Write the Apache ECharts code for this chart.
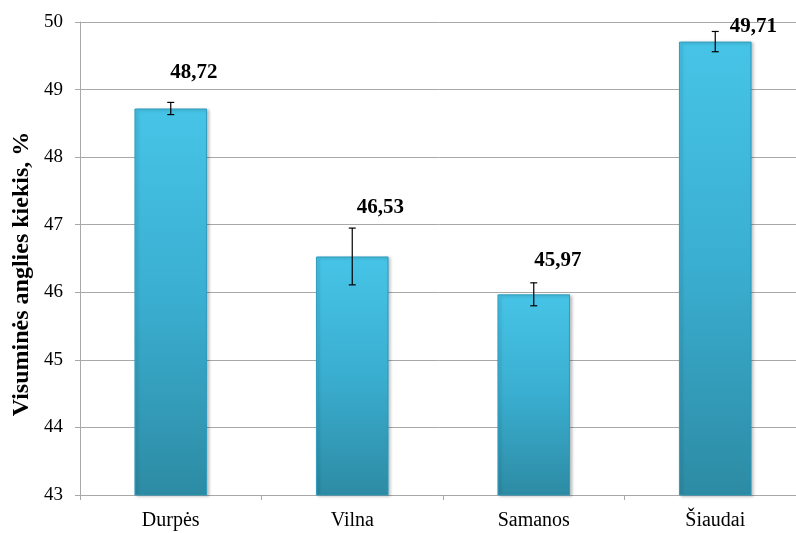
<!DOCTYPE html>
<html>
<head>
<meta charset="utf-8">
<script src="https://cdn.jsdelivr.net/npm/echarts@6/dist/echarts.min.js"></script>
<style>
html,body{margin:0;padding:0;background:#fff;}
#chart{width:796px;height:533px;}
</style>
</head>
<body>
<div id="chart"></div>
<script>
const categories = ['Durpės', 'Vilna', 'Samanos', 'Šiaudai'];
const values = [48.72, 46.53, 45.97, 49.71];
const errors = [0.09, 0.42, 0.17, 0.15];
const valueLabels = ['48,72', '46,53', '45,97', '49,71'];
const yTitle = 'Visuminės anglies kiekis, %';
const yMin = 43, yMax = 50, yStep = 1;

// label placement nudges (px, relative to the top of the error bar)
const labelNudge = [[23, -30], [28, -21], [24, -22], [38, -5]];

const chart = echarts.init(document.getElementById('chart'));
const serif = '"Liberation Serif", "Times New Roman", serif';
const gridColor = '#a8a8a8';

chart.setOption({
  animation: false,
  backgroundColor: '#ffffff',
  grid: { left: 80, top: 22, bottom: 38, width: 726, containLabel: false, outerBoundsMode: 'none' },
  graphic: [{
    type: 'text',
    x: 22, y: 274,
    rotation: Math.PI / 2,
    style: {
      text: yTitle,
      align: 'center', verticalAlign: 'middle',
      fill: '#000',
      font: 'bold 24px ' + serif
    }
  }],
  xAxis: {
    type: 'category',
    data: categories,
    axisLine: { lineStyle: { color: gridColor, width: 1 } },
    axisTick: { show: true, alignWithLabel: false, length: 5, lineStyle: { color: gridColor } },
    axisLabel: { color: '#000', fontFamily: serif, fontSize: 20, margin: 16 }
  },
  yAxis: {
    type: 'value',
    min: yMin, max: yMax, interval: yStep,
    axisLine: { show: true, lineStyle: { color: gridColor, width: 1 } },
    axisTick: { show: true, length: 5, lineStyle: { color: gridColor } },
    axisLabel: { color: '#000', fontFamily: serif, fontSize: 19, margin: 17 },
    splitLine: { show: true, lineStyle: { color: gridColor, width: 1 } }
  },
  series: [
    {
      type: 'bar',
      data: values,
      barWidth: '40%',
      itemStyle: {
        color: new echarts.graphic.LinearGradient(0, 0, 0, 1, [
          { offset: 0, color: '#46c4e7' },
          { offset: 0.5, color: '#3aaed0' },
          { offset: 1, color: '#2d8ba4' }
        ]),
        borderColor: '#2f9cbd',
        borderWidth: 1,
        shadowColor: 'rgba(0,0,0,0.25)',
        shadowBlur: 3,
        shadowOffsetX: 2,
        shadowOffsetY: 1
      },
      z: 2
    },
    {
      type: 'custom',
      z: 5,
      data: values.map((v, i) => [i, v, errors[i]]),
      encode: { x: 0, y: 1 },
      renderItem: function (params, api) {
        const i = params.dataIndex;
        const v = api.value(1), e = api.value(2);
        const top = api.coord([i, v + e]);
        const bot = api.coord([i, v - e]);
        const cap = 3.5;
        const st = { stroke: '#000', lineWidth: 1.2 };
        const nudge = labelNudge[i];
        return {
          type: 'group',
          children: [
            { type: 'line', shape: { x1: top[0], y1: top[1], x2: bot[0], y2: bot[1] }, style: st },
            { type: 'line', shape: { x1: top[0] - cap, y1: top[1], x2: top[0] + cap, y2: top[1] }, style: st },
            { type: 'line', shape: { x1: bot[0] - cap, y1: bot[1], x2: bot[0] + cap, y2: bot[1] }, style: st },
            {
              type: 'text',
              style: {
                x: top[0] + nudge[0], y: top[1] + nudge[1],
                text: valueLabels[i],
                align: 'center', verticalAlign: 'middle',
                fill: '#000', font: 'bold 21px ' + serif
              }
            }
          ]
        };
      }
    }
  ]
});
</script>
</body>
</html>
